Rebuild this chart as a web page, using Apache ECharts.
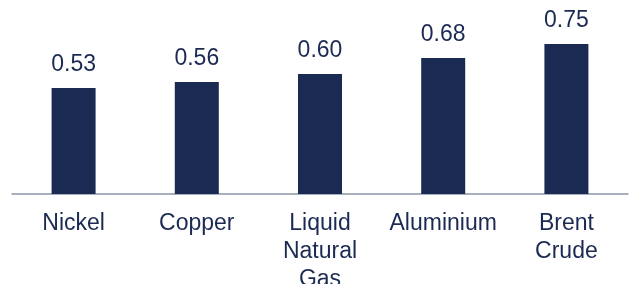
<!DOCTYPE html>
<html><head><meta charset="utf-8">
<script src="https://cdn.jsdelivr.net/npm/echarts@6/dist/echarts.min.js"></script>
<style>html,body{margin:0;padding:0;background:#fff;overflow:hidden}#c{width:630px;height:284px}</style>
</head><body><div id="c"></div>
<script>
const categories = ['Nickel', 'Copper', 'Liquid\nNatural\nGas', 'Aluminium', 'Brent\nCrude'];
const values = [0.53, 0.56, 0.60, 0.68, 0.75];
const navy = '#1b2a52';
const chart = echarts.init(document.getElementById('c'), null, {renderer: 'canvas'});
chart.setOption({
  animation: false,
  grid: {left: 12, right: 2, top: 14, bottom: 90, containLabel: false, outerBoundsMode: 'none'},
  xAxis: {
    type: 'category', data: categories,
    axisLine: {lineStyle: {color: '#8a97a8', width: 1.5}},
    axisTick: {show: false},
    axisLabel: {color: navy, fontFamily: 'Liberation Sans, Arial', fontSize: 23, lineHeight: 28, margin: 16, interval: 0}
  },
  yAxis: {type: 'value', min: 0, max: 0.9, show: false, splitLine: {show: false}},
  series: [{
    type: 'bar', data: values, barWidth: 44,
    itemStyle: {color: navy},
    label: {show: true, position: 'top', distance: 12, color: navy, fontFamily: 'Liberation Sans, Arial', fontSize: 23,
      formatter: p => p.value.toFixed(2)}
  }]
});
</script></body></html>
